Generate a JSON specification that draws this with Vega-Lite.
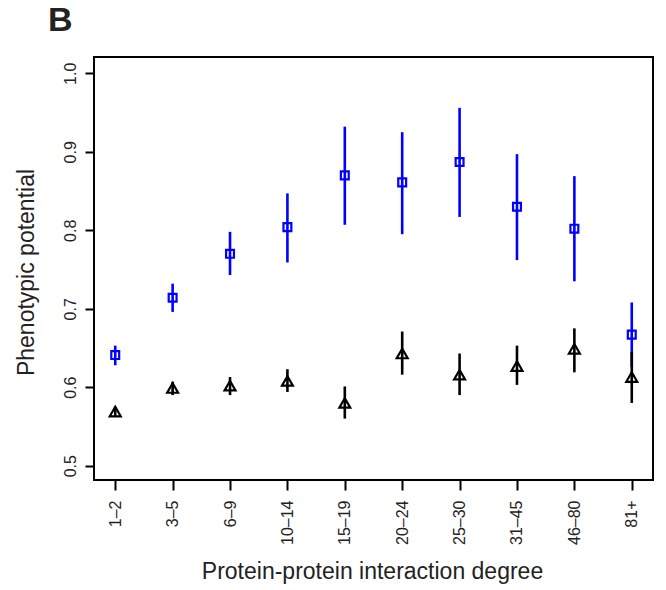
{
  "$schema": "https://vega.github.io/schema/vega-lite/v6.json",
  "autosize": "none",
  "width": 559,
  "height": 423,
  "padding": {"left": 94, "top": 57, "right": 13, "bottom": 110},
  "background": "white",
  "config": {
    "view": {"stroke": "black", "strokeWidth": 2},
    "font": "Liberation Sans",
    "axis": {"grid": false, "domain": false, "tickColor": "black", "tickWidth": 2, "labelColor": "#222", "titleColor": "#222", "labelFont": "Liberation Sans", "titleFont": "Liberation Sans", "titleFontWeight": "normal"}
  },
  "title": {"text": "B", "anchor": "start", "frame": "group", "fontSize": 34, "fontWeight": "bold", "font": "Liberation Sans", "color": "#222", "baseline": "alphabetic", "offset": 22, "dx": -46, "dy": 30},
  "data": {
    "values": [
      {"degree": "1–2", "series": "S1", "est": 0.641, "lo": 0.628, "hi": 0.653},
      {"degree": "3–5", "series": "S1", "est": 0.714, "lo": 0.696, "hi": 0.732},
      {"degree": "6–9", "series": "S1", "est": 0.770, "lo": 0.743, "hi": 0.798},
      {"degree": "10–14", "series": "S1", "est": 0.804, "lo": 0.759, "hi": 0.847},
      {"degree": "15–19", "series": "S1", "est": 0.870, "lo": 0.807, "hi": 0.932},
      {"degree": "20–24", "series": "S1", "est": 0.861, "lo": 0.795, "hi": 0.925},
      {"degree": "25–30", "series": "S1", "est": 0.887, "lo": 0.817, "hi": 0.956},
      {"degree": "31–45", "series": "S1", "est": 0.830, "lo": 0.762, "hi": 0.897},
      {"degree": "46–80", "series": "S1", "est": 0.802, "lo": 0.735, "hi": 0.869},
      {"degree": "81+", "series": "S1", "est": 0.667, "lo": 0.626, "hi": 0.708},
      {"degree": "1–2", "series": "S2", "est": 0.569, "lo": 0.563, "hi": 0.575},
      {"degree": "3–5", "series": "S2", "est": 0.599, "lo": 0.590, "hi": 0.607},
      {"degree": "6–9", "series": "S2", "est": 0.602, "lo": 0.590, "hi": 0.613},
      {"degree": "10–14", "series": "S2", "est": 0.608, "lo": 0.594, "hi": 0.623},
      {"degree": "15–19", "series": "S2", "est": 0.580, "lo": 0.560, "hi": 0.601},
      {"degree": "20–24", "series": "S2", "est": 0.643, "lo": 0.616, "hi": 0.671},
      {"degree": "25–30", "series": "S2", "est": 0.616, "lo": 0.590, "hi": 0.643},
      {"degree": "31–45", "series": "S2", "est": 0.627, "lo": 0.603, "hi": 0.653},
      {"degree": "46–80", "series": "S2", "est": 0.649, "lo": 0.619, "hi": 0.675},
      {"degree": "81+", "series": "S2", "est": 0.613, "lo": 0.580, "hi": 0.645}
    ]
  },
  "encoding": {
    "x": {
      "field": "degree", "type": "ordinal",
      "scale": {"type": "point", "padding": 0.37, "domain": ["1–2", "3–5", "6–9", "10–14", "15–19", "20–24", "25–30", "31–45", "46–80", "81+"]},
      "axis": {"title": "Protein-protein interaction degree", "titleFontSize": 23, "titleBaseline": "alphabetic", "titleY": 98, "titleX": 278, "labelAngle": 270, "labelAlign": "right", "labelBaseline": "middle", "labelFontSize": 16, "labelPadding": 10, "tickSize": 10}
    },
    "color": {"field": "series", "type": "nominal", "scale": {"domain": ["S1", "S2"], "range": ["#0000ff", "#000000"]}, "legend": null}
  },
  "layer": [
    {
      "mark": {"type": "rule", "strokeWidth": 2.6},
      "encoding": {
        "y": {"field": "lo", "type": "quantitative", "scale": {"domain": [0.4818, 1.0208], "nice": false, "zero": false},
          "axis": {"title": "Phenotypic potential", "titleFontSize": 23, "titleAngle": -90, "titleAlign": "center", "titleBaseline": "alphabetic", "titleX": -61, "titleY": 215, "values": [0.5, 0.6, 0.7, 0.8, 0.9, 1.0], "format": ".1f", "labelAngle": 270, "labelAlign": "center", "labelBaseline": "bottom", "labelFontSize": 16, "labelPadding": 7, "tickSize": 9}},
        "y2": {"field": "hi"}
      }
    },
    {
      "mark": {"type": "point", "filled": false, "strokeWidth": 2.2, "opacity": 1},
      "encoding": {
        "y": {"field": "est", "type": "quantitative"},
        "shape": {"field": "series", "type": "nominal", "scale": {"domain": ["S1", "S2"], "range": ["square", "triangle-up"]}, "legend": null},
        "size": {"field": "series", "type": "nominal", "scale": {"domain": ["S1", "S2"], "range": [62, 120]}, "legend": null}
      }
    }
  ]
}
